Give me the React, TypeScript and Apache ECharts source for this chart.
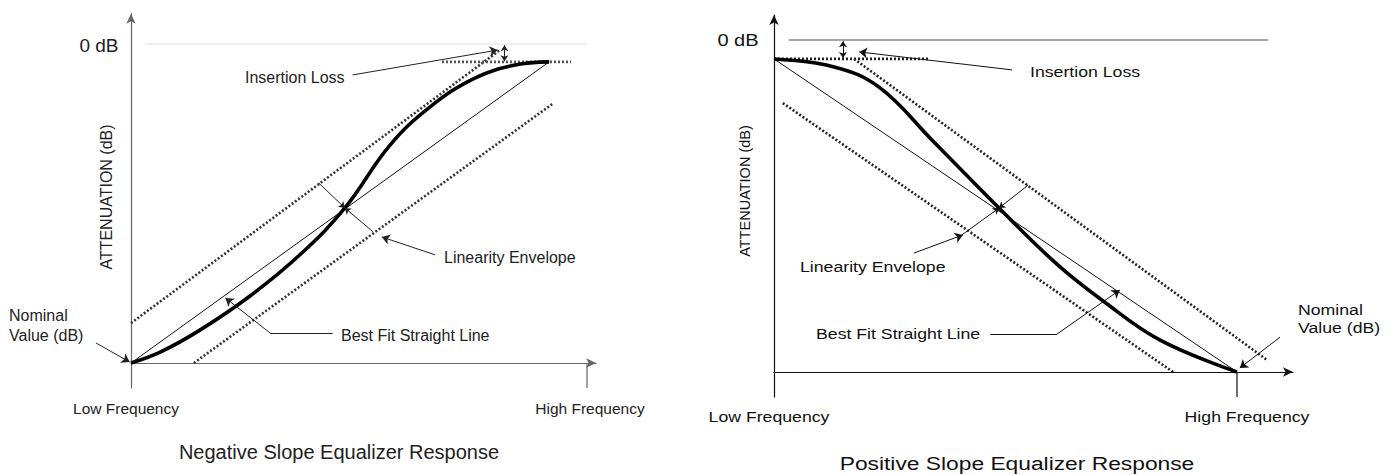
import React, { useEffect, useRef } from 'react';
import * as echarts from 'echarts';

// ---------- Negative slope chart (left) : x = frequency (Low=0, High=100), y = level (nominal=0, 0 dB=100)
const negCurve = [[0, 0], [6.4, 3.4], [15.1, 10.3], [26.1, 21.0], [37.1, 34.0], [46.9, 48.6], [56.8, 68.3], [65.6, 80.3], [75.4, 89.3], [84.2, 93.4], [91.7, 94.4]];
const negBestFit = [[0, 0], [91.7, 94.4]];
const negUpperEnv = [[0, 12.5], [80.9, 98.1]];
const negLowerEnv = [[13.8, 0], [92.7, 81.5]];
const negLossLevel = [[68.2, 94.4], [96.5, 94.4]];
const negZeroDb = [[3.3, 100], [100, 100]];
const negHighTick = [[100, 0], [100, -7.8]];
const negLossGap = [[81.9, 99.6], [81.9, 94.6]];
const negLossPointer = [[48.6, 90.3], [80.4, 98.1]];
const negEnvBarA = [[41.2, 56.4], [46.9, 48.6]];
const negEnvBarB = [[53.1, 41.1], [46.9, 48.6]];
const negEnvPointer = [[66.7, 33.9], [55.0, 39.5]];
const negFitPointer = [[44.2, 9.4], [30.5, 9.4], [20.7, 20.4]];
const negNominalPointer = [[-7.7, 6.3], [-0.3, 0.3]];

// ---------- Positive slope chart (right)
const posCurve = [[0, 94.3], [13.0, 91.9], [22.7, 85.8], [34.1, 69.9], [48.6, 49.4], [61.1, 32.5], [70.8, 21.7], [83.4, 9.6], [100, 0]];
const posBestFit = [[0, 94.3], [100, 0]];
const posUpperEnv = [[17.3, 94.3], [106.5, 3.6]];
const posLowerEnv = [[1.9, 81.0], [86.2, 0]];
const posLossLevel = [[0, 94.3], [33.3, 94.3]];
const posZeroDb = [[3.2, 100], [106.7, 100]];
const posHighTick = [[100, 0], [100, -7.5]];
const posLossGap = [[14.9, 99.6], [14.9, 94.6]];
const posLossPointer = [[51.4, 91.0], [18.4, 96.4]];
const posEnvBarA = [[40.0, 40.7], [48.6, 49.4]];
const posEnvBarB = [[54.9, 56.3], [48.6, 49.4]];
const posEnvPointer = [[30.2, 35.8], [40.8, 41.3]];
const posFitPointer = [[46.7, 11.4], [61.1, 11.4], [74.7, 24.7]];
const posNominalPointer = [[109.3, 10.5], [100.6, 1.2]];

// texts
const negTexts = {
  zero: '0 dB', loss: 'Insertion Loss', env: 'Linearity Envelope', fit: 'Best Fit Straight Line',
  nom1: 'Nominal', nom2: 'Value (dB)', low: 'Low Frequency', high: 'High Frequency',
  yName: 'ATTENUATION (dB)', title: 'Negative Slope Equalizer Response',
};
const posTexts = {
  zero: '0 dB', loss: 'Insertion Loss', env: 'Linearity Envelope', fit: 'Best Fit Straight Line',
  nom1: 'Nominal', nom2: 'Value (dB)', low: 'Low Frequency', high: 'High Frequency',
  yName: 'ATTENUATION (dB)', title: 'Positive Slope Equalizer Response',
};

// ---------- layout (pixels)
const L = { ox: 131, oy: 363, sx: 4.56, sy: 3.19, xMax: 102, yMin: -7.8, yMax: 109.5 };
const R = { ox: 774, oy: 372, sx: 4.63, sy: 3.32, xMax: 112.1, yMin: -7.5, yMax: 107.5 };

function gridOf(g: typeof L) {
  return {
    left: g.ox,
    top: g.oy - g.yMax * g.sy,
    width: g.xMax * g.sx,
    height: (g.yMax - g.yMin) * g.sy,
    containLabel: false,
  };
}

function axes(gi: number, g: typeof L, color: string) {
  const common = {
    gridIndex: gi,
    type: 'value' as const,
    axisTick: { show: false },
    axisLabel: { show: false },
    splitLine: { show: false },
  };
  const axisLine = {
    show: true,
    onZero: true,
    symbol: ['none', 'arrow'],
    symbolSize: [7, 10],
    lineStyle: { color, width: 1.2 },
  };
  return {
    x: { ...common, min: 0, max: g.xMax, axisLine },
    y: { ...common, min: g.yMin, max: g.yMax, axisLine },
  };
}

function line(gi: number, data: number[][], style: any, smooth: any = false) {
  return {
    type: 'line', xAxisIndex: gi, yAxisIndex: gi, data, showSymbol: false, symbol: 'none',
    clip: false, silent: true, smooth, lineStyle: style,
  };
}

function segs(gi: number, segments: number[][][], symbol: string[], size: number, color: string) {
  return {
    type: 'lines', coordinateSystem: 'cartesian2d', xAxisIndex: gi, yAxisIndex: gi,
    clip: false, silent: true, symbol, symbolSize: size,
    lineStyle: { color, width: 1, opacity: 1, curveness: 0 },
    data: segments.map((c) => ({ coords: c })),
    z: 5,
  };
}

// pointer polylines: all segments plain, last segment ends with an arrowhead
function pointers(gi: number, paths: number[][][], color: string, size = 7) {
  const plain: number[][][] = [];
  const headed: number[][][] = [];
  paths.forEach((p) => {
    for (let i = 0; i < p.length - 1; i++) {
      (i === p.length - 2 ? headed : plain).push([p[i], p[i + 1]]);
    }
  });
  const out: any[] = [segs(gi, headed, ['none', 'arrow'], size, color)];
  if (plain.length) out.push(segs(gi, plain, ['none', 'none'], 0, color));
  return out;
}

function texts(t: typeof negTexts, p: any, font: string, fill: string, sx: number) {
  const el = (text: string, x: number, y: number, size: number, align: string, rot = 0, scale = sx) => ({
    type: 'text', x, y, rotation: rot, scaleX: rot ? 1 : scale, silent: true,
    style: { text, font: `${size}px ${font}`, fill, textAlign: align, textVerticalAlign: 'middle' },
  });
  return [
    el(t.zero, p.zero[0], p.zero[1], p.zeroSize, 'center'),
    el(t.loss, p.loss[0], p.loss[1], p.size, 'left'),
    el(t.env, p.env[0], p.env[1], p.size, 'left'),
    el(t.fit, p.fit[0], p.fit[1], p.size, 'left'),
    el(t.nom1, p.nom1[0], p.nom1[1], p.size, 'left'),
    el(t.nom2, p.nom2[0], p.nom2[1], p.size, 'left'),
    el(t.low, p.low[0], p.low[1], p.freqSize, 'center'),
    el(t.high, p.high[0], p.high[1], p.freqSize, 'center'),
    el(t.yName, p.yName[0], p.yName[1], p.yNameSize, 'center', Math.PI / 2),
    el(t.title, p.title[0], p.title[1], p.titleSize, 'center', 0, p.titleScale ?? sx),
  ];
}

const FONT = '"Liberation Sans", Arial, sans-serif';

export default function App() {
  const ref = useRef<HTMLDivElement>(null);
  useEffect(() => {
    const chart = echarts.init(ref.current!, null, { renderer: 'svg' });
    const la = axes(0, L, '#666');
    const ra = axes(1, R, '#111');
    const negDot = { color: '#333', width: 2.6, type: [2, 2] };
    const posDot = { color: '#222', width: 2.6, type: [2, 2] };
    const option = {
      animation: false,
      backgroundColor: '#fff',
      grid: [gridOf(L), gridOf(R)],
      xAxis: [la.x, ra.x],
      yAxis: [la.y, ra.y],
      series: [
        // left
        line(0, negZeroDb, { color: '#ddd', width: 1 }),
        line(0, negHighTick, { color: '#666', width: 1.2 }),
        line(0, negUpperEnv, negDot),
        line(0, negLowerEnv, negDot),
        line(0, negLossLevel, { color: '#555', width: 2.6, type: [2, 2] }),
        line(0, negBestFit, { color: '#111', width: 1 }),
        line(0, negCurve, { color: '#000', width: 3.6 }, 0.4),
        ...pointers(0, [negLossPointer, negEnvPointer, negFitPointer, negNominalPointer], '#222', 8),
        ...pointers(0, [negEnvBarA, negEnvBarB], '#222', 6),
        segs(0, [negLossGap], ['arrow', 'arrow'], 6, '#222'),
        // right
        line(1, posZeroDb, { color: '#888', width: 1.5 }),
        line(1, posHighTick, { color: '#111', width: 1.2 }),
        line(1, posUpperEnv, posDot),
        line(1, posLowerEnv, posDot),
        line(1, posLossLevel, posDot),
        line(1, posBestFit, { color: '#111', width: 1 }),
        line(1, posCurve, { color: '#000', width: 3.6 }, 0.4),
        ...pointers(1, [posLossPointer, posEnvPointer, posFitPointer, posNominalPointer], '#111', 8),
        ...pointers(1, [posEnvBarA, posEnvBarB], '#111', 6),
        segs(1, [posLossGap], ['arrow', 'arrow'], 6, '#111'),
      ],
      graphic: [
        ...texts(negTexts, {
          zero: [99, 45], zeroSize: 19, loss: [245, 77], env: [444, 257], fit: [341, 335],
          nom1: [9, 315], nom2: [9, 335], size: 16, low: [126, 408], high: [590, 408], freqSize: 15.5,
          yName: [106, 197], yNameSize: 16, title: [339, 452], titleSize: 20,
        }, FONT, '#222', 1),
        ...texts(posTexts, {
          zero: [738, 40], zeroSize: 17, loss: [1030, 72], env: [800, 267], fit: [816, 334],
          nom1: [1298, 310], nom2: [1298, 328], size: 15, low: [769, 417], high: [1247, 417], freqSize: 15,
          yName: [745, 191], yNameSize: 14.5, title: [1017, 463], titleSize: 19, titleScale: 1.2,
        }, FONT, '#111', 1.18),
      ],
    };
    chart.setOption(option as any);
    return () => chart.dispose();
  }, []);
  return <div ref={ref} style={{ position: 'absolute', left: 0, top: 0, width: 1397, height: 475 }} />;
}
